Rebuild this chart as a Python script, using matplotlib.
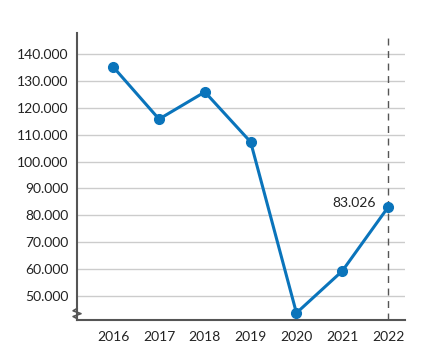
import numpy as np
import matplotlib.pyplot as plt

plt.rcParams['font.family'] = ['Lato', 'DejaVu Sans']

years = [2016, 2017, 2018, 2019, 2020, 2021, 2022]
values = [135200, 115800, 125900, 107300, 43700, 59300, 83026]
yticks = [50000, 60000, 70000, 80000, 90000, 100000, 110000, 120000, 130000, 140000]
ytick_labels = ['50.000', '60.000', '70.000', '80.000', '90.000', '100.000',
                '110.000', '120.000', '130.000', '140.000']
last_label = '83.026'

blue = '#0a74bb'
axis_gray = '#555555'

fig = plt.figure(figsize=(4.21, 3.52), dpi=100)
ax = fig.add_axes([0.183, 0.091, 0.779, 0.815])

ax.set_xlim(2015.21, 2022.37)
ax.set_ylim(41100, 147800)

for y in yticks:
    ax.axhline(y, color='#cccccc', linewidth=1, zorder=0)

ax.axvline(2022, color=axis_gray, linestyle=(0, (5, 4)), linewidth=1, zorder=1)

ax.plot(years, values, color=blue, linewidth=2.2, marker='o', markersize=7, zorder=3)
ax.annotate(last_label, (years[-1], values[-1]), xytext=(-9, 3), textcoords='offset points',
            ha='right', va='center', fontsize=10, color='#222222')

ax.set_xticks(years)
ax.set_xticklabels([str(y) for y in years])
ax.set_yticks(yticks)
ax.set_yticklabels(ytick_labels)
ax.tick_params(length=0, labelsize=10, colors='#222222')
ax.tick_params(axis='y', pad=6)
ax.tick_params(axis='x', pad=8)

for s in ['top', 'right']:
    ax.spines[s].set_visible(False)
for s in ['left', 'bottom']:
    ax.spines[s].set_color(axis_gray)
    ax.spines[s].set_linewidth(1.5)

# break mark on y axis
zx = [0.0, -0.012, 0.012, -0.012, 0.0]
zy = [0.04, 0.032, 0.022, 0.012, 0.005]
ax.plot(zx, zy, transform=ax.transAxes, color=axis_gray, linewidth=1.2, clip_on=False, zorder=4)

plt.savefig('out.png', dpi=100)
